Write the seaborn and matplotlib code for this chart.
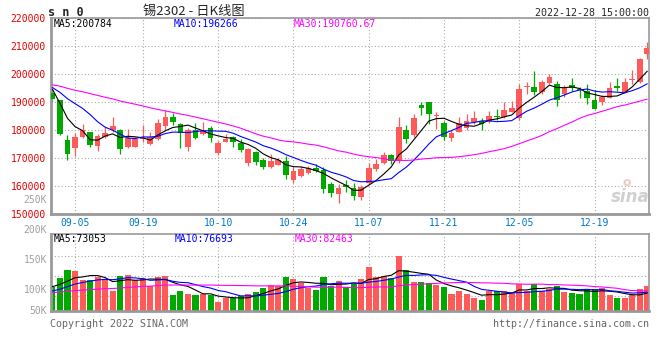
import matplotlib
matplotlib.use("Agg")
import matplotlib.pyplot as plt
import numpy as np
import pandas as pd
import seaborn as sns

# daily candles of SN2302, 2022-08-31 .. 2022-12-28 (index 0..79)
opens = [193450, 190830, 176560, 173820, 177630, 179420, 174420, 177510, 180130, 180130,
         174060, 174180, 176800, 175250, 177030, 181560, 184760, 182260, 174170, 180000,
         178810, 180720, 172030, 175960, 177630, 175360, 168460, 172270, 169410, 166910,
         167750, 169050, 162270, 163700, 164890, 166560, 165840, 160840, 157270, 160600,
         159520, 156190, 161070, 166080, 168220, 171200, 168930, 180000, 178340, 189180,
         190250, 185000, 182750, 177390, 179540, 180720, 183100, 183340, 182870, 185250,
         184770, 186680, 184530, 195400, 195600, 193820, 196910, 196670, 193100, 196310,
         194770, 194170, 190960, 190010, 191670, 195960, 193580, 197950, 197270, 207140]
highs = [194640, 191000, 178340, 178940, 182390, 179420, 178700, 181320, 184770, 180480,
         180480, 177500, 181800, 179420, 183940, 187390, 186190, 182500, 180800, 182620,
         182980, 181550, 176200, 178810, 177900, 176910, 173580, 172600, 170120, 171440,
         170000, 170710, 166800, 167270, 167270, 168000, 166800, 161500, 160840, 162270,
         161070, 160360, 168460, 169770, 172270, 171400, 184640, 182030, 185960, 190250,
         190250, 186680, 183200, 180250, 184770, 185960, 186910, 184530, 186910, 187630,
         190250, 190490, 196430, 197390, 201190, 198100, 200000, 197500, 196200, 198810,
         195600, 196550, 194290, 192630, 197150, 198810, 198810, 201430, 205950, 211430]
lows = [190000, 178340, 169540, 170960, 177390, 173940, 172750, 177270, 179540, 171680,
        173820, 173940, 175900, 174900, 176560, 180130, 182030, 173820, 172740, 176800,
        178330, 175720, 171320, 175700, 174170, 172270, 167390, 167750, 166200, 166670,
        167510, 162750, 161070, 163220, 164410, 165000, 157510, 156320, 154180, 157990,
        155140, 155140, 160720, 165600, 167990, 167990, 168460, 175600, 177630, 185600,
        182390, 180480, 176440, 176080, 179300, 180250, 182390, 180010, 182630, 183820,
        184530, 186440, 183820, 193100, 192510, 193100, 196430, 188580, 191790, 193940,
        191550, 189530, 187630, 189180, 191430, 194170, 193340, 196430, 196910, 205480]
closes = [191190, 178820, 171680, 177630, 180130, 174900, 177990, 179060, 181560, 173460,
          177270, 177030, 177200, 177510, 182630, 184770, 182980, 178930, 180000, 177390,
          179760, 177390, 175600, 176910, 175960, 172980, 173220, 168820, 166910, 169170,
          169290, 164170, 165600, 166320, 166560, 165360, 159180, 157750, 159410, 159880,
          156430, 159640, 166560, 167990, 171200, 169170, 181190, 177030, 184530, 187870,
          185960, 185480, 177630, 178940, 182630, 183460, 184530, 182390, 185250, 184650,
          187150, 187870, 194890, 195550, 193820, 197150, 199170, 190720, 195240, 195240,
          194290, 191430, 187630, 191910, 195240, 195120, 197150, 198200, 205600, 209520]
volumes = [99280, 136000, 168640, 164560, 126480, 126480, 137360, 126480, 82960, 144160,
           148240, 125120, 133280, 102000, 140080, 144160, 65280, 81600, 70720, 65280,
           68000, 65280, 35360, 51680, 51680, 61200, 69360, 78880, 95200, 106080,
           102000, 140080, 131920, 112880, 95200, 85680, 140080, 102000, 122400, 99280,
           108800, 130560, 180880, 140080, 144160, 133280, 225760, 168640, 119680, 119680,
           115600, 106080, 99280, 70720, 81600, 69360, 54400, 46240, 81600, 81600,
           81600, 74800, 110160, 81600, 110160, 81600, 89760, 100640, 78880, 74800,
           69360, 85680, 89760, 92480, 65280, 54400, 54400, 65280, 89760, 102000]

# estimated sessions before the window, only used for the moving-average lead-in
prev_closes = [193500, 195200, 197800, 196400, 194900, 197300, 199100, 198200, 196700, 195100,
               193800, 195600, 197900, 199400, 200800, 198900, 196300, 194700, 195800, 197600,
               196100, 194200, 195300, 197100, 196800, 203770, 198480, 192480, 187280]
prev_volumes = [68000, 74000, 81000, 66000, 72000, 79000, 70000, 63000, 75000, 82000,
                69000, 64000, 71000, 77000, 73000, 66000, 70000, 78000, 72000, 68000,
                61000, 66000, 59000, 64000, 70000, 88000, 104000, 96000, 109000]

tick_idx = [3, 12, 22, 32, 42, 52, 62, 72]
tick_labels = ["09-05", "09-19", "10-10", "10-24", "11-07", "11-21", "12-05", "12-19"]
price_ticks = [150000, 160000, 170000, 180000, 190000, 200000, 210000, 220000]
vol_grid = [62000, 144000, 226000]
vol_labels = ["250K", "200K", "150K", "100K", "50K"]
ma_price_text = ["MA5:200784", "MA10:196266", "MA30:190760.67"]
ma_vol_text = ["MA5:73053", "MA10:76693", "MA30:82463"]

RED = "#ff5a5a"
GREEN = "#00a800"
MA_COLORS = ["black", "#0000ff", "#ff00ff"]
GRAY = "#999999"

sns.set_style("white")
plt.rcParams['font.family'] = ['DejaVu Sans Mono', 'Noto Sans CJK SC']

W, H = 660, 360
fig = plt.figure(figsize=(6.6, 3.6), dpi=100)
ax = fig.add_axes([50.7 / W, 1 - 214.3 / H, 598.3 / W, 196 / H])
axv = fig.add_axes([50.7 / W, 1 - 311 / H, 598.3 / W, 76.7 / H])

x = np.arange(len(closes))
o, h, l, c = map(np.array, (opens, highs, lows, closes))
colors = np.where(c >= o, RED, GREEN)

all_close = pd.Series(prev_closes + closes)
all_vol = pd.Series(prev_volumes + volumes)
n0 = len(prev_closes)

# price panel
ax.vlines(x, l, h, colors=colors, linewidth=0.9, zorder=2)
ax.bar(x, np.maximum(np.abs(c - o), 350), bottom=np.minimum(o, c), width=0.76,
       color=colors, linewidth=0, zorder=3)
for n, col in zip([5, 10, 30], MA_COLORS):
    ma = all_close.rolling(n).mean().values[n0:]
    sns.lineplot(x=x, y=ma, ax=ax, color=col, linewidth=0.8, zorder=4)

ax.set_xlim(-0.23, 79.23)
ax.set_ylim(150000, 220000)
ax.set_yticks(price_ticks)
ax.set_yticklabels([str(v) for v in price_ticks])
ax.set_xticks(tick_idx)
ax.set_xticklabels(tick_labels)
ax.tick_params(axis='y', length=0, pad=3.5, labelsize=7, labelcolor="#e60000")
ax.tick_params(axis='x', length=0, pad=2.5, labelsize=7, labelcolor="#0078c8")
ax.grid(True, linestyle=(0, (1, 2)), color="#aaaaaa", linewidth=0.8, zorder=0)

# volume panel
axv.bar(x, volumes, width=0.8, color=colors, linewidth=0, zorder=2)
for n, col in zip([5, 10, 30], MA_COLORS):
    ma = all_vol.rolling(n).mean().values[n0:]
    sns.lineplot(x=x, y=ma, ax=axv, color=col, linewidth=0.8, zorder=4)
axv.set_xlim(-0.23, 79.23)
axv.set_ylim(0, 312900)
axv.set_xticks(tick_idx)
axv.set_xticklabels([])
axv.set_yticks(vol_grid)
axv.set_yticklabels([])
axv.tick_params(length=0)
axv.grid(True, linestyle=(0, (1, 2)), color="#aaaaaa", linewidth=0.8, zorder=0)

for a in (ax, axv):
    for side, sp in a.spines.items():
        sp.set_color(GRAY)
        sp.set_linewidth(2 if side in ("left", "bottom") else 1.2)
    a.set_xlabel("")
    a.set_ylabel("")

# gray volume scale labels (placed where the reference shows them)
for lab, yp in zip(vol_labels, [200, 230, 260, 290, 311]):
    fig.text(47 / W, 1 - yp / H, lab, ha="right", va="center", fontsize=7, color="#a0a0a0")

def ftext(px, py, s, **kw):
    fig.text(px / W, 1 - py / H, s, **kw)

ftext(48, 12.5, "s n 0", fontsize=8.5, fontweight="bold", ha="left", va="center")
ftext(194, 11, "锡2302 - 日K线图", fontsize=9.5, ha="center", va="center",
      family=['Noto Sans CJK SC', 'DejaVu Sans'])
ftext(649, 12.5, "2022-12-28 15:00:00", fontsize=7.2, ha="right", va="center")

for s, px, col in zip(ma_price_text, [54, 174, 294], MA_COLORS):
    ftext(px, 24, s, fontsize=7, color=col, ha="left", va="center")
for s, px, col in zip(ma_vol_text, [54, 175, 295], MA_COLORS):
    ftext(px, 239, s, fontsize=7, color=col, ha="left", va="center")

ftext(50, 324, "Copyright 2022 SINA.COM", fontsize=7.2, color="#666666", ha="left", va="center")
ftext(649, 324, "http://finance.sina.com.cn", fontsize=7.2, color="#666666", ha="right", va="center")

# faint sina watermark
ftext(630, 197, "sina", fontsize=12, fontweight="bold", style="italic", color="#d0d0d0",
      ha="center", va="center", family=['DejaVu Sans'])
ftext(627, 182, "o", fontsize=9, fontweight="bold", color="#f0c8c8", ha="center", va="center",
      family=['DejaVu Sans'])

fig.savefig("out.png", dpi=100)
